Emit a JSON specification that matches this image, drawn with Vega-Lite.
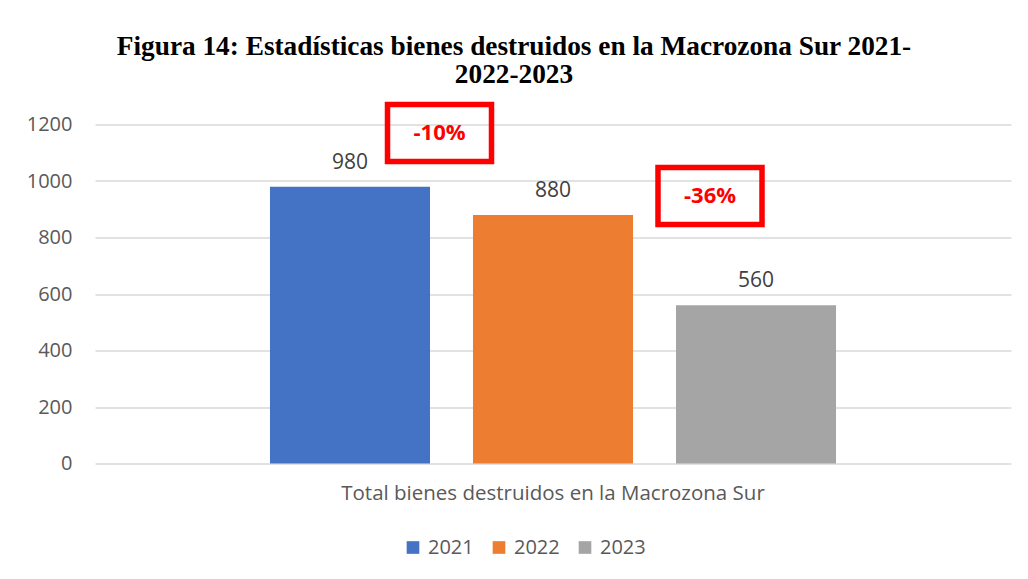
{
  "$schema": "https://vega.github.io/schema/vega-lite/v6.json",
  "width": 916,
  "height": 339,
  "autosize": {"type": "none"},
  "padding": {"left": 95, "top": 124.5, "right": 17, "bottom": 115.5},
  "background": "white",
  "title": {
    "text": ["Figura 14: Estadísticas bienes destruidos en la Macrozona Sur 2021-", "2022-2023"],
    "font": "Liberation Serif",
    "fontSize": 27.3,
    "fontWeight": "bold",
    "color": "#000000",
    "anchor": "middle",
    "dx": -39,
    "offset": 5,
    "lineHeight": 28
  },
  "config": {"view": {"stroke": null}, "font": "Open Sans"},
  "layer": [
    {
      "data": {"values": [
        {"categoria": "Total bienes destruidos en la Macrozona Sur", "year": "2021", "value": 980},
        {"categoria": "Total bienes destruidos en la Macrozona Sur", "year": "2022", "value": 880},
        {"categoria": "Total bienes destruidos en la Macrozona Sur", "year": "2023", "value": 560}
      ]},
      "layer": [
        {
          "mark": {"type": "bar"},
          "encoding": {
            "x": {
              "field": "categoria", "type": "nominal",
              "scale": {"paddingOuter": 0.252, "paddingInner": 0},
              "axis": {"title": null, "labelAngle": 0, "labelFontSize": 20.5, "labelColor": "#595959", "ticks": false, "domain": false, "labelPadding": 20, "labelLimit": 0, "labelFont": "Open Sans"}
            },
            "xOffset": {"field": "year", "type": "nominal", "scale": {"paddingInner": 0.2118, "paddingOuter": 0.1059}},
            "y": {
              "field": "value", "type": "quantitative",
              "scale": {"domain": [0, 1200]},
              "axis": {"title": null, "values": [0, 200, 400, 600, 800, 1000, 1200], "format": "d", "grid": true, "gridColor": "#d9d9d9", "gridWidth": 1.3, "ticks": false, "domain": false, "labelFontSize": 20, "labelColor": "#595959", "labelPadding": 23, "labelFont": "Open Sans"}
            },
            "color": {
              "field": "year", "type": "nominal",
              "scale": {"domain": ["2021", "2022", "2023"], "range": ["#4472C4", "#ED7D31", "#A5A5A5"]},
              "legend": {"title": null, "orient": "none", "legendX": 308, "legendY": 413, "direction": "horizontal", "symbolType": "square", "symbolSize": 160, "symbolStrokeWidth": 0, "labelFontSize": 20, "labelColor": "#595959", "labelOffset": 5, "columnPadding": 15, "labelFont": "Open Sans"}
            }
          }
        },
        {
          "mark": {"type": "text", "dy": -18, "baseline": "alphabetic", "fontSize": 21, "color": "#404040", "font": "Open Sans"},
          "encoding": {
            "x": {"field": "categoria", "type": "nominal"},
            "xOffset": {"field": "year", "type": "nominal"},
            "y": {"field": "value", "type": "quantitative"},
            "text": {"field": "value", "type": "quantitative"}
          }
        }
      ]
    },
    {
      "data": {"values": [{"categoria": "Total bienes destruidos en la Macrozona Sur", "label": "-10%", "pos": 1170}]},
      "layer": [
        {
          "mark": {"type": "point", "shape": "M-1,-0.548L1,-0.548L1,0.548L-1,0.548Z", "size": 10816, "filled": false, "stroke": "#FF0000", "strokeWidth": 5.5, "opacity": 1, "xOffset": -113.5},
          "encoding": {"x": {"field": "categoria", "type": "nominal"}, "y": {"field": "pos", "type": "quantitative"}}
        },
        {
          "mark": {"type": "text", "color": "#FF0000", "fontWeight": "bold", "fontSize": 22, "font": "Open Sans", "baseline": "middle", "xOffset": -113.5},
          "encoding": {"x": {"field": "categoria", "type": "nominal"}, "y": {"field": "pos", "type": "quantitative"}, "text": {"field": "label"}}
        }
      ]
    },
    {
      "data": {"values": [{"categoria": "Total bienes destruidos en la Macrozona Sur", "label": "-36%", "pos": 947}]},
      "layer": [
        {
          "mark": {"type": "point", "shape": "M-1,-0.548L1,-0.548L1,0.548L-1,0.548Z", "size": 10816, "filled": false, "stroke": "#FF0000", "strokeWidth": 5.5, "opacity": 1, "xOffset": 157},
          "encoding": {"x": {"field": "categoria", "type": "nominal"}, "y": {"field": "pos", "type": "quantitative"}}
        },
        {
          "mark": {"type": "text", "color": "#FF0000", "fontWeight": "bold", "fontSize": 22, "font": "Open Sans", "baseline": "middle", "xOffset": 157},
          "encoding": {"x": {"field": "categoria", "type": "nominal"}, "y": {"field": "pos", "type": "quantitative"}, "text": {"field": "label"}}
        }
      ]
    }
  ]
}
